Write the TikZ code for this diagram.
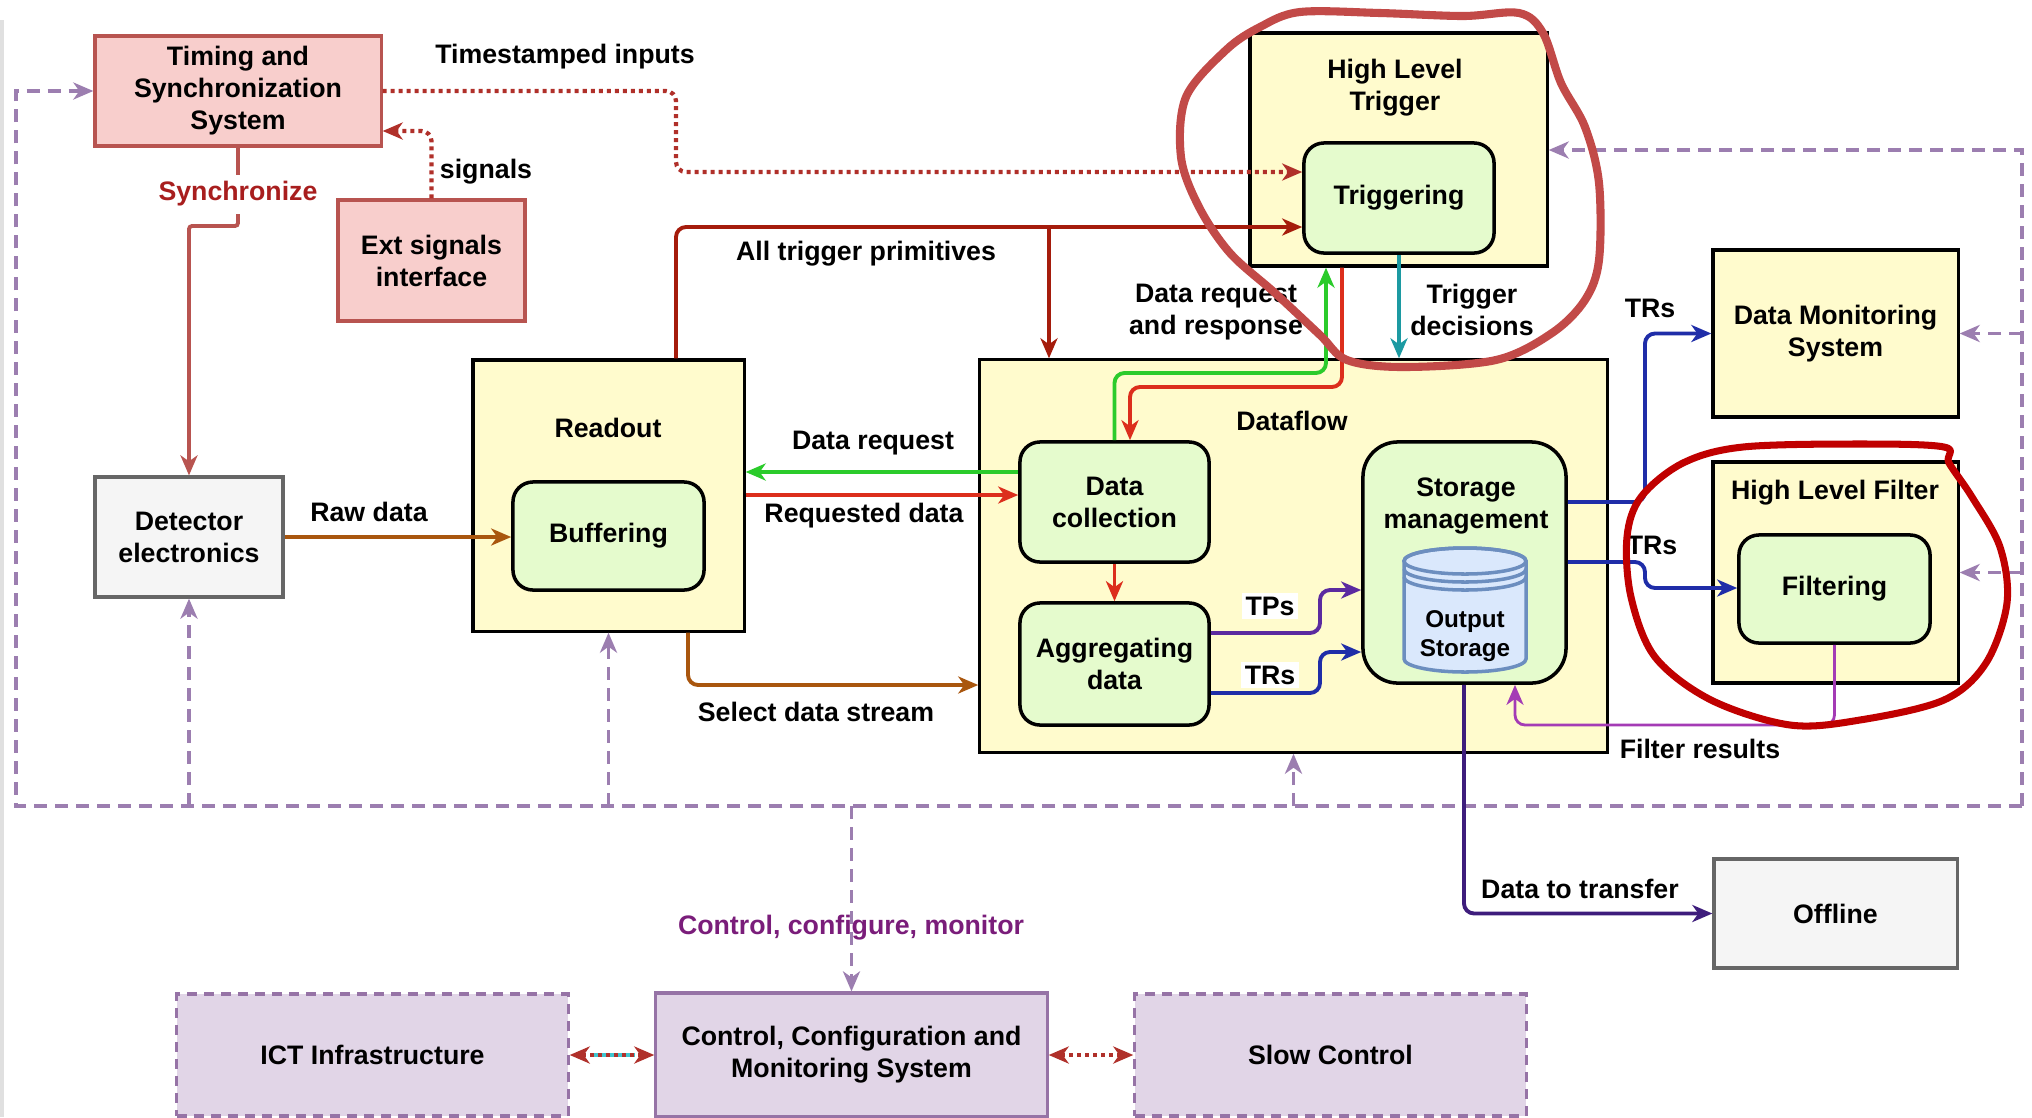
\documentclass[tikz,border=0pt]{standalone}
\usepackage{fontspec}
\setmainfont{Liberation Sans}
\usepackage{tikz}
\usetikzlibrary{positioning,arrows.meta,calc}

\definecolor{tsfill}{HTML}{F8CECC}
\definecolor{tsline}{HTML}{B85450}
\definecolor{sysfill}{HTML}{FFFBCD}
\definecolor{fnfill}{HTML}{E5FBCD}
\definecolor{greyfill}{HTML}{F5F5F5}
\definecolor{greyline}{HTML}{666666}
\definecolor{ccmfill}{HTML}{E1D5E7}
\definecolor{ccmline}{HTML}{9673A6}
\definecolor{cylfill}{HTML}{DAE8FC}
\definecolor{cylline}{HTML}{6C8EBF}
\definecolor{busline}{HTML}{9C7EB0}
\definecolor{synctext}{HTML}{A81E1E}
\definecolor{tsdot}{HTML}{B0302A}
\definecolor{trigprim}{HTML}{A51C0C}
\definecolor{rawbrown}{HTML}{A9560E}
\definecolor{reqgreen}{HTML}{2BCB2B}
\definecolor{datared}{HTML}{DC2E1C}
\definecolor{tpspurple}{HTML}{5B2AA0}
\definecolor{trsblue}{HTML}{1F2DA8}
\definecolor{decteal}{HTML}{1C9AA2}
\definecolor{dotcyan}{HTML}{3FC6D0}
\definecolor{filtmag}{HTML}{A43BB5}
\definecolor{xferpurple}{HTML}{3E1D7C}
\definecolor{ccmtext}{HTML}{7A1D7A}
\definecolor{markred}{HTML}{C24A48}
\definecolor{markdark}{HTML}{C00000}

\begin{document}
\begin{tikzpicture}[
  x=0.01cm, y=-0.01cm,
  font=\fontsize{7.6}{9.1}\selectfont\bfseries,
  >={Stealth[length=0.2cm,width=0.17cm,inset=0.06cm]},
  box/.style={rectangle, line width=0.9pt, inner sep=0pt, align=center},
  tsbox/.style={box, draw=tsline, fill=tsfill},
  sysbox/.style={box, draw=black, fill=sysfill},
  fnbox/.style={box, draw=black, fill=fnfill, rounded corners=0.2cm, line width=1pt},
  greybox/.style={box, draw=greyline, fill=greyfill},
  ccmbox/.style={box, draw=ccmline, fill=ccmfill},
  extbox/.style={ccmbox, dash pattern=on 0.1cm off 0.07cm},
  lbl/.style={inner sep=1pt, align=center},
  flow/.style={->, line width=1.1pt, rounded corners=0.1cm},
  dotlink/.style={->, draw=tsdot, line width=1.2pt, dash pattern=on 0.04cm off 0.04cm, rounded corners=0.1cm},
  bus/.style={->, draw=busline, line width=1.1pt, dash pattern=on 0.13cm off 0.08cm},
  handmark/.style={line width=2.3pt, line join=round, line cap=round},
]
\useasboundingbox (0,0) rectangle (2032,1117);

% page edge
\draw[black!12, line width=1pt] (2,20) -- (2,1117);

% ---------------- boxes ----------------
\node[tsbox, minimum width=2.86cm, minimum height=1.10cm] (tss) at (238,91) {Timing and\\Synchronization\\System};
\node[tsbox, minimum width=1.87cm, minimum height=1.21cm] (ext) at (431.5,260.5) {Ext signals\\interface};
\node[greybox, minimum width=1.88cm, minimum height=1.20cm] (det) at (189,537) {Detector\\electronics};

% readout
\node[sysbox, minimum width=2.71cm, minimum height=2.71cm] (rdo) at (608.5,495.5) {};
\node[lbl] (rdoT) at (608,428) {Readout};
\node[fnbox, minimum width=1.91cm, minimum height=1.08cm] (buf) at (608.5,536) {Buffering};

% trigger
\node[sysbox, minimum width=2.97cm, minimum height=2.33cm] (hlt) at (1398.5,149.5) {};
\node[lbl] (hltT) at (1395,88) {High Level\\Trigger};
\node[fnbox, minimum width=1.90cm, minimum height=1.10cm] (trg) at (1399,198) {Triggering};

% dataflow
\node[sysbox, minimum width=6.27cm, minimum height=3.92cm] (dfl) at (1293.5,556) {};
\node[lbl] (dflT) at (1292,421) {Dataflow};
\node[fnbox, minimum width=1.89cm, minimum height=1.20cm] (dcol) at (1114.5,502) {Data\\collection};
\node[fnbox, minimum width=1.89cm, minimum height=1.22cm] (agg) at (1114.5,664) {Aggregating\\data};
\node[fnbox, rounded corners=0.35cm, minimum width=2.03cm, minimum height=2.41cm] (sto) at (1464.5,562.5) {};
\node[lbl] (stoT) at (1466,506) {Storage\\management};
\node[inner sep=0pt, minimum width=1.22cm, minimum height=1.24cm] (cyl) at (1465,610) {};
\begin{scope}[shift={(cyl.center)}, x=0.01cm, y=0.01cm, draw=cylline, line width=1pt]
  \filldraw[fill=cylfill]
    (-61,49) -- (-61,-49) arc[start angle=180, end angle=360, x radius=61, y radius=13]
    -- (61,49) arc[start angle=0, end angle=180, x radius=61, y radius=13] -- cycle;
  \draw (0,49) ellipse[x radius=61, y radius=13];
  \draw (-61,41) arc[start angle=180, end angle=360, x radius=61, y radius=13];
  \draw (-61,33) arc[start angle=180, end angle=360, x radius=61, y radius=13];
\end{scope}
\node[lbl, font=\fontsize{6.9}{8.1}\selectfont\bfseries] (cylT) at (1465,636) {Output\\Storage};

% monitoring, filter, offline
\node[sysbox, minimum width=2.45cm, minimum height=1.67cm] (dms) at (1835.5,333.5) {Data Monitoring\\System};
\node[sysbox, minimum width=2.45cm, minimum height=2.21cm] (hlf) at (1835.5,572.5) {};
\node[lbl] (hlfT) at (1835,493) {High Level Filter};
\node[fnbox, minimum width=1.91cm, minimum height=1.08cm] (flt) at (1834.5,589) {Filtering};
\node[greybox, minimum width=2.43cm, minimum height=1.09cm] (off) at (1835.5,913.5) {Offline};

% control row
\node[extbox, minimum width=3.91cm, minimum height=1.22cm] (ict) at (372.5,1055) {ICT Infrastructure};
\node[ccmbox, minimum width=3.91cm, minimum height=1.24cm] (ccm) at (851.5,1055) {Control, Configuration and\\Monitoring System};
\node[extbox, minimum width=3.91cm, minimum height=1.22cm] (slow) at (1330.5,1055) {Slow Control};

% ---------------- control bus ----------------
\coordinate (busSW) at (16,806);
\coordinate (busSE) at (2022,806);
\draw[bus] (busSE) -- (busSW) |- (tss.west);
\draw[bus] (busSE) |- (hlt.east |- 0,150);
\draw[bus] (busSE |- dms.east) -- (dms.east);
\draw[bus] (busSE |- hlf.east) -- (hlf.east);
\draw[bus] (busSW -| det.south) -- (det.south);
\draw[bus] (busSW -| rdo.south) -- (rdo.south);
\draw[bus] (busSW -| dfl.south) -- (dfl.south);
\draw[bus] (busSW -| ccm.north) -- (ccm.north);
\node[lbl, text=ccmtext] (ccmL) at (851,928) {Control, configure, monitor};

% ---------------- timing ----------------
\draw[dotlink] (tss.east) -| (676,172) -- (trg.west |- 0,172);
\node[lbl] (tsiL) at (565,57) {Timestamped inputs};
\draw[dotlink] (ext.north) |- (tss.east |- 0,131);
\node[lbl] (sigL) at (486,172) {signals};
\draw[flow, tsline, rounded corners=0.03cm] (tss.south) -- (238,226) -| (det.north);
\node[lbl, fill=white, text=synctext, inner sep=2pt] (syncL) at (238,194) {Synchronize};

% ---------------- data path ----------------
\draw[flow, rawbrown] (det.east) -- (buf.west |- det.east);
\node[lbl] (rawL) at (369,512) {Raw data};

\coordinate (tpBranch) at (1049,227);
\draw[flow, trigprim] (rdo.north -| 676,0) |- (trg.west |- tpBranch);
\draw[flow, trigprim] (tpBranch) -- (dfl.north -| tpBranch);
\node[lbl] (tpL) at (866,254) {All trigger primitives};

\draw[flow, reqgreen] (dcol.west |- 0,472) -- (rdo.east |- 0,472);
\node[lbl] (dreqL) at (873,443) {Data request};
\draw[flow, datared] (rdo.east |- 0,495) -- (dcol.west |- 0,495);
\node[lbl] (rdatL) at (864,516) {Requested data};

\draw[flow, reqgreen] (dcol.north) |- (1326,373) -- (hlt.south -| 1326,0);
\draw[flow, datared] (hlt.south -| 1342,0) |- (1130,387) -- (dcol.north -| 1130,0);
\node[lbl] (drrL) at (1216,312) {Data request\\and response};

\draw[flow, decteal] (trg.south) -- (trg.south |- dfl.north);
\node[lbl] (tdL) at (1472,310) {Trigger\\decisions};

\draw[flow, datared] (dcol.south) -- (agg.north);
\draw[flow, tpspurple] (agg.east |- 0,633) -| (1320,590) -- (sto.west |- 0,590);
\draw[flow, trsblue] (agg.east |- 0,693) -| (1320,652) -- (sto.west |- 0,652);
\node[lbl, fill=white] (tpsL) at (1270,606) {TPs};
\node[lbl, fill=white] (trsL) at (1270,675) {TRs};

\draw[flow, rawbrown] (rdo.south -| 688,0) |- (dfl.west |- 0,685);
\node[lbl] (selL) at (816,712) {Select data stream};

\draw[flow, trsblue] (sto.east |- 0,502) -| (1645,360) |- (dms.west);
\node[lbl] (trsDL) at (1650,308) {TRs};
\draw[flow, trsblue] (sto.east |- 0,562) -| (1645,588) -- (flt.west |- 0,588);
\node[lbl] (trsFL) at (1652,545) {TRs};

\draw[flow, filtmag, line width=0.8pt] (flt.south) |- (1515,725) -- (sto.south -| 1515,0);
\node[lbl] (frL) at (1700,749) {Filter results};

\draw[flow, xferpurple] (sto.south -| 1464,0) |- (off.west);
\node[lbl] (xferL) at (1580,889) {Data to transfer};

% ---------------- control row links ----------------
\draw[<->, draw=tsdot, line width=1.2pt, dash pattern=on 0.04cm off 0.04cm] (ict.east) -- (ccm.west);
\draw[dotcyan, line width=1.2pt, dash pattern=on 0.04cm off 0.04cm, dash phase=0.04cm,
  shorten <=0.2cm, shorten >=0.2cm] (ict.east) -- (ccm.west);
\draw[<->, draw=tsdot, line width=1.2pt, dash pattern=on 0.04cm off 0.04cm] (ccm.east) -- (slow.west);

% ---------------- hand-drawn marks ----------------
\draw[handmark, markred] plot[smooth cycle, tension=0.55] coordinates {
  (1300,12) (1380,13) (1463,16) (1519,13) (1543,33) (1561,83) (1585,127)
  (1599,183) (1599,260) (1585,300) (1552,333) (1496,360) (1403,367)
  (1347,360) (1320,335) (1275,293) (1230,253) (1199,207) (1181,157)
  (1186,97) (1226,50) (1260,27)};
\draw[handmark, markdark, line width=2pt] plot[smooth cycle, tension=0.55] coordinates {
  (1944,447) (1860,444) (1743,447) (1683,463) (1641,497) (1627,537)
  (1631,597) (1655,657) (1711,700) (1790,725) (1860,720) (1944,700)
  (1986,663) (2007,603) (2000,547) (1972,497) (1949,463)};

\end{tikzpicture}
\end{document}
